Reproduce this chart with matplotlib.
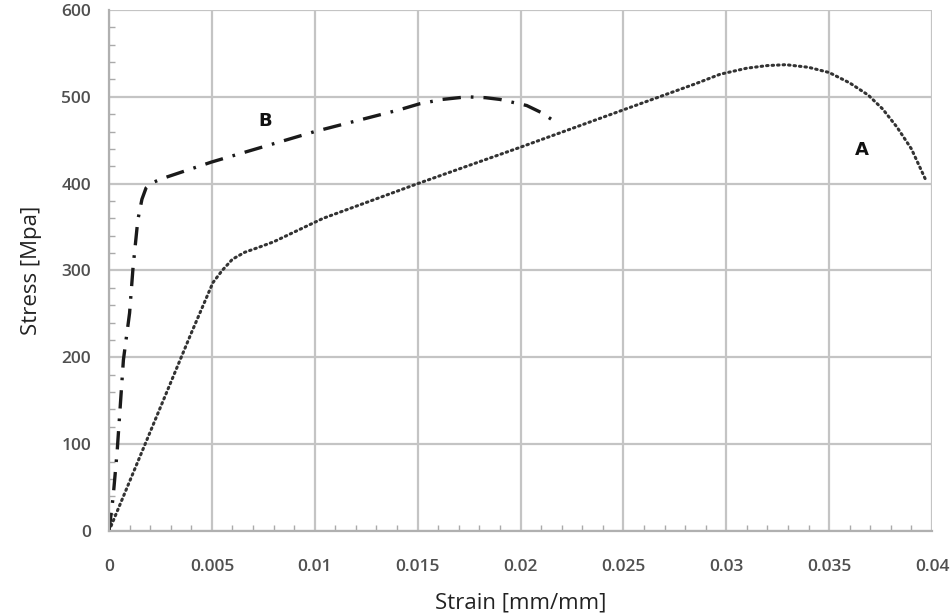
import matplotlib.pyplot as plt
from matplotlib.ticker import MultipleLocator

# Curve A (dotted)
strain_a = [0, 0.001, 0.002, 0.003, 0.004, 0.00505, 0.0055, 0.006, 0.0066, 0.0072, 0.008,
            0.0104, 0.015, 0.02, 0.025, 0.0285, 0.0297, 0.031, 0.032, 0.0329, 0.034,
            0.035, 0.036, 0.0369, 0.0376, 0.0383, 0.039, 0.0397]
stress_a = [0, 57, 114, 171, 228, 286, 300, 313, 321, 326, 333,
            360, 400, 442, 485, 515, 526, 533, 536, 537, 534,
            528, 516, 502, 486, 465, 440, 404]

# Curve B (dash-dot)
strain_b = [0, 0.0002, 0.0004, 0.0007, 0.001, 0.00117, 0.0014, 0.0016, 0.0018, 0.0021,
            0.0026, 0.005, 0.01, 0.0141, 0.0151, 0.0162, 0.0174, 0.0183, 0.019, 0.0203,
            0.021, 0.0217]
stress_b = [0, 39, 93, 197, 251, 304, 358, 382, 395, 401,
            406, 425, 460, 485, 492, 497, 500, 499, 497, 490,
            482, 471]

xticks = [0, 0.005, 0.01, 0.015, 0.02, 0.025, 0.03, 0.035, 0.04]
xtick_labels = ['0', '0.005', '0.01', '0.015', '0.02', '0.025', '0.03', '0.035', '0.04']
yticks = [0, 100, 200, 300, 400, 500, 600]

plt.rcParams['font.family'] = ['Open Sans', 'DejaVu Sans']

fig = plt.figure(figsize=(9.52, 6.13), dpi=100)
ax = fig.add_axes([0.1145, 0.1338, 0.8645, 0.8499])

ax.plot(strain_a, stress_a, color='#333333', lw=2.2, linestyle=(0, (0.5, 1.3)),
        dash_capstyle='round')
ax.plot(strain_b, stress_b, color='#1a1a1a', lw=2.4, linestyle=(0, (5.5, 3, 0.8, 3)))

ax.text(0.0076, 472, 'B', fontsize=13, fontweight='bold', ha='center', va='center',
        family='DejaVu Sans', color='#111111')
ax.text(0.0366, 439, 'A', fontsize=13, fontweight='bold', ha='center', va='center',
        family='DejaVu Sans', color='#111111')

ax.set_xlim(0, 0.04)
ax.set_ylim(0, 600)
ax.set_xticks(xticks)
ax.set_xticklabels(xtick_labels, fontsize=12.5, fontweight='semibold')
ax.set_yticks(yticks)
ax.set_yticklabels([str(v) for v in yticks], fontsize=12.5, fontweight='semibold')
ax.xaxis.set_minor_locator(MultipleLocator(0.001))
ax.yaxis.set_minor_locator(MultipleLocator(20))
ax.tick_params(which='major', length=0, labelcolor='#505050')
ax.tick_params(axis='x', which='major', pad=20)
ax.tick_params(axis='y', which='major', pad=13)
ax.tick_params(which='minor', direction='in', length=4, color='#aaaaaa', width=1)

ax.grid(True, which='major', color='#c4c4c4', lw=1.6)
ax.set_axisbelow(True)
for side in ['top', 'right']:
    ax.spines[side].set_visible(False)
for side in ['left', 'bottom']:
    ax.spines[side].set_color('#b0b0b0')
    ax.spines[side].set_linewidth(1.6)

ax.set_xlabel('Strain [mm/mm]', fontsize=16, color='#222222', labelpad=13)
ax.set_ylabel('Stress [Mpa]', fontsize=16, color='#222222', labelpad=14)

fig.savefig('out.png', dpi=100)
